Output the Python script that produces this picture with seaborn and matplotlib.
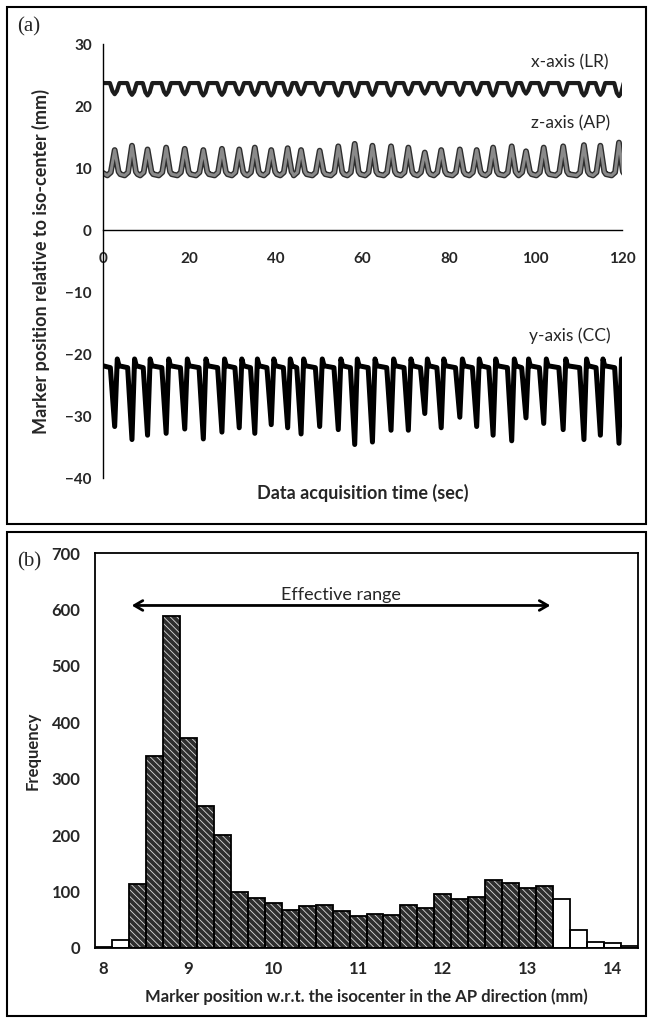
import matplotlib
matplotlib.use("Agg")
import matplotlib.pyplot as plt
import matplotlib.patheffects as pe
from matplotlib.patches import Rectangle
import numpy as np
import pandas as pd
import seaborn as sns

# ---- panel (a): marker trace, one entry per breathing cycle ----
# time of each inhale extreme (sec)
cycle_t = [2.7, 6.7, 10.3, 14.6, 18.9, 23.2, 27.5, 31.5, 35.1, 38.9,
           42.7, 45.8, 50.1, 54.4, 58.2, 62.3, 66.6, 70.6, 74.4, 78.2,
           82.5, 86.4, 90.2, 94.5, 97.8, 101.9, 106.4, 111.2, 115.0, 119.3]
# y-axis (CC) minimum per cycle (mm)
cc_min = [-31.7, -33.8, -33.1, -32.8, -32.1, -33.7, -32.6, -31.9, -32.8, -31.4,
          -31.9, -32.9, -31.7, -32.2, -34.6, -34.2, -32.3, -32.3, -29.6, -31.9,
          -30.2, -31.7, -33.1, -34.0, -30.3, -31.2, -32.2, -33.8, -33.1, -34.4]
# z-axis (AP) maximum per cycle (mm)
ap_max = [12.9, 13.6, 13.0, 13.3, 13.1, 12.9, 13.1, 13.0, 13.3, 12.9,
          13.2, 12.9, 12.8, 13.5, 13.9, 13.6, 13.5, 13.3, 12.5, 12.9,
          13.0, 12.9, 13.3, 13.5, 12.7, 13.3, 13.5, 13.7, 13.6, 14.1]
# x-axis (LR) minimum per cycle (mm)
lr_min = [21.9, 21.8, 21.7, 21.8, 21.9, 21.7, 21.8, 21.9, 21.8, 21.7,
          21.8, 21.9, 21.8, 21.7, 21.6, 21.8, 21.7, 21.9, 22.0, 21.8,
          21.8, 21.9, 21.7, 21.7, 22.0, 21.8, 21.8, 21.7, 21.8, 21.6]
# resting levels between cycles (mm)
cc_rest, cc_overshoot = -21.9, -20.8
ap_rest = 9.0
lr_rest = 23.7

# ---- panel (b): histogram of AP position ----
bin_labels = ["8.0", "8.2", "8.4", "8.6", "8.8", "9.0", "9.2", "9.4", "9.6", "9.8",
              "10.0", "10.2", "10.4", "10.6", "10.8", "11.0", "11.2", "11.4", "11.6", "11.8",
              "12.0", "12.2", "12.4", "12.6", "12.8", "13.0", "13.2", "13.4", "13.6", "13.8",
              "14.0", "14.2"]
freq = [1, 14, 113, 340, 589, 372, 252, 200, 99, 89,
        80, 68, 74, 76, 66, 56, 60, 58, 76, 71,
        96, 87, 90, 121, 115, 107, 110, 87, 32, 11,
        9, 4]
effective = [False, False] + [True] * 25 + [False] * 5


def trace(first, rows):
    pts = [first]
    for r in rows:
        pts.extend(r)
    return pd.DataFrame(pts, columns=["t", "pos"])


cc_df = trace((0, cc_rest), [[(t - 1.0, cc_rest - 0.3), (t, m), (t + 0.6, cc_overshoot), (t + 1.0, cc_rest)]
                             for t, m in zip(cycle_t, cc_min)])
ap_df = trace((0, ap_rest + 0.2), [[(t - 1.7, ap_rest - 0.2), (t - 0.9, ap_rest + 0.3), (t, m),
                                    (t + 0.9, ap_rest + 0.4), (t + 1.3, ap_rest)]
                                   for t, m in zip(cycle_t, ap_max)])
lr_df = trace((0, lr_rest), [[(t - 1.1, lr_rest), (t - 0.5, m + 0.5), (t, m), (t + 0.5, m + 0.5), (t + 1.1, lr_rest)]
                             for t, m in zip(cycle_t, lr_min)])

sns.set_style("white")
plt.rcParams["font.family"] = ["Lato", "DejaVu Sans"]
plt.rcParams["hatch.linewidth"] = 0.6

fig = plt.figure(figsize=(6.48, 10.22), dpi=100)

# ---------------- (a) ----------------
ax = fig.add_axes([103 / 648, 1 - 478 / 1022, 519 / 648, 434 / 1022])
sns.lineplot(data=lr_df, x="t", y="pos", sort=False, estimator=None, ax=ax,
             color="#1c1c1c", linewidth=3.0)
sns.lineplot(data=ap_df, x="t", y="pos", sort=False, estimator=None, ax=ax,
             color="#8a8a8a", linewidth=2.2,
             path_effects=[pe.Stroke(linewidth=4.2, foreground="#2e2e2e"), pe.Normal()])
sns.lineplot(data=cc_df, x="t", y="pos", sort=False, estimator=None, ax=ax,
             color="black", linewidth=3.6)

ax.set_xlim(0, 120)
ax.set_ylim(-40, 30)
ax.set_xticks(range(0, 121, 20))
ax.set_yticks(range(-40, 31, 10))
for s in ["top", "right"]:
    ax.spines[s].set_visible(False)
ax.spines["bottom"].set_position(("data", 0))
for s in ["bottom", "left"]:
    ax.spines[s].set_color("black")
    ax.spines[s].set_linewidth(1.0)
ax.tick_params(axis="x", direction="inout", length=5, width=1, pad=13, labelsize=11)
ax.tick_params(axis="y", direction="out", length=4, width=1, pad=4, labelsize=11)
for lab in ax.get_xticklabels() + ax.get_yticklabels():
    lab.set_fontweight("bold")

ax.set_xlabel("Data acquisition time (sec)", fontsize=13, fontweight="bold")
ax.set_ylabel("Marker position relative to iso-center (mm)", fontsize=13, fontweight="bold")
ax.xaxis.set_label_coords(0.5, -0.035)
ax.xaxis.label.set_va("center")
ax.yaxis.set_label_coords(-0.119, 0.5)
ax.yaxis.label.set_va("center")

ax.text(108, 27.1, "x-axis (LR)", ha="center", va="center", fontsize=12.5)
ax.text(108, 17.2, "z-axis (AP)", ha="center", va="center", fontsize=12.5)
ax.text(108, -17.0, "y-axis (CC)", ha="center", va="center", fontsize=12.5)

# ---------------- (b) ----------------
bx = fig.add_axes([95 / 648, 1 - 948 / 1022, 543 / 648, 395 / 1022])
hist = pd.DataFrame({"bin": bin_labels, "freq": freq})
sns.barplot(data=hist, x="bin", y="freq", order=bin_labels, color="#2e2e2e",
            width=1.0, saturation=1, edgecolor="#dcdcdc", linewidth=0, ax=bx)
for patch, eff in zip(bx.patches, effective):
    if eff:
        patch.set_hatch("\\\\\\\\\\")
    else:
        patch.set_facecolor("white")
sns.barplot(data=hist, x="bin", y="freq", order=bin_labels, color="black",
            width=1.0, fill=False, linewidth=1.3, ax=bx)

bx.set_xlim(-0.5, len(bin_labels) - 0.5)
bx.set_ylim(0, 700)
bx.set_yticks(range(0, 701, 100))
bx.set_xticks(np.arange(-0.5, len(bin_labels)), labels=[""] * (len(bin_labels) + 1))
major_idx = [i for i, b in enumerate(bin_labels) if b.endswith(".0")]
bx.set_xticks(major_idx, labels=[bin_labels[i].split(".")[0] for i in major_idx], minor=True)
bx.tick_params(axis="x", which="major", direction="inout", length=8, width=1.1)
bx.tick_params(axis="x", which="minor", length=0, pad=9)
bx.tick_params(axis="y", direction="inout", length=9, width=1.1, pad=6)
for lab in bx.get_xticklabels(minor=True) + bx.get_yticklabels():
    lab.set_fontfamily(["Liberation Sans Narrow", "Lato", "DejaVu Sans"])
    lab.set_fontweight("bold")
    lab.set_fontsize(12)
for s in bx.spines.values():
    s.set_visible(True)
    s.set_color("black")
    s.set_linewidth(1.3)

bx.set_xlabel("Marker position w.r.t. the isocenter in the AP direction (mm)",
              fontsize=12, fontweight="bold")
bx.set_ylabel("Frequency", fontsize=12, fontweight="bold")
bx.xaxis.set_label_coords(0.5, -0.124)
bx.xaxis.label.set_va("center")
bx.yaxis.set_label_coords(-0.114, 0.5)
bx.yaxis.label.set_va("center")

bx.annotate("", xy=(1.5, 607), xytext=(26.5, 607),
            arrowprops=dict(arrowstyle="<->,head_length=0.6,head_width=0.35", lw=2, color="black"))
bx.text(14.0, 612, "Effective range", ha="center", va="bottom", fontsize=13)

# panel frames and letters
fig.add_artist(Rectangle((7 / 648, 1 - 524 / 1022), 639 / 648, 517 / 1022,
                         transform=fig.transFigure, fill=False, lw=1.5, color="black"))
fig.add_artist(Rectangle((7 / 648, 1 - 1016 / 1022), 639 / 648, 484 / 1022,
                         transform=fig.transFigure, fill=False, lw=1.5, color="black"))
fig.text(29 / 648, 1 - 27 / 1022, "(a)", family="Liberation Serif", fontsize=15, ha="center", va="center")
fig.text(29 / 648, 1 - 562 / 1022, "(b)", family="Liberation Serif", fontsize=15, ha="center", va="center")

fig.savefig("out.png", dpi=100)
